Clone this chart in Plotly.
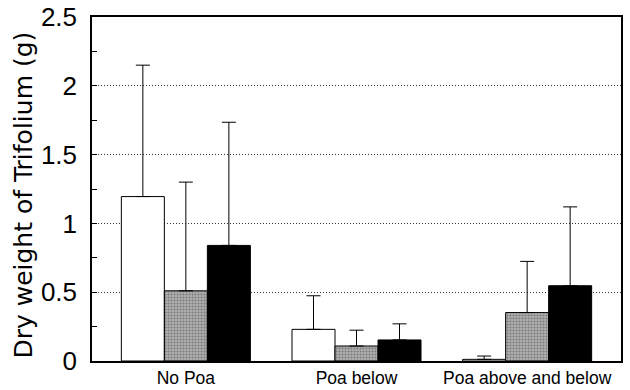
import plotly.graph_objects as go

categories = ["No Poa", "Poa below", "Poa above and below"]
white_vals = [1.195, 0.23, 0.012]
white_err = [0.955, 0.244, 0.024]
gray_vals = [0.51, 0.109, 0.352]
gray_err = [0.79, 0.115, 0.372]
black_vals = [0.84, 0.153, 0.547]
black_err = [0.895, 0.117, 0.573]
y_ticks = [0, 0.5, 1, 1.5, 2, 2.5]
y_ticktext = ["0", "0.5", "1", "1.5", "2", "2.5"]
y_title = "Dry weight of Trifolium (g)"

FONT = "Liberation Sans, Arial, Helvetica, sans-serif"

def err(vals):
    return dict(type="data", array=vals, arrayminus=[0] * len(vals), symmetric=False,
                color="black", thickness=1, width=7)

fig = go.Figure()
fig.add_trace(go.Bar(x=categories, y=white_vals, error_y=err(white_err),
                     marker=dict(color="white", line=dict(color="black", width=1))))
fig.add_trace(go.Bar(x=categories, y=gray_vals, error_y=err(gray_err),
                     marker=dict(color="#a8a8a8", line=dict(color="black", width=1),
                                 pattern=dict(shape=".", fgcolor="#444444", bgcolor="#b0b0b0",
                                              size=3, solidity=0.4))))
fig.add_trace(go.Bar(x=categories, y=black_vals, error_y=err(black_err),
                     marker=dict(color="black", line=dict(color="black", width=1))))

fig.update_layout(
    width=630, height=390,
    margin=dict(l=92, r=9, t=17, b=29),
    paper_bgcolor="white", plot_bgcolor="white",
    barmode="group", bargap=0.244, bargroupgap=0,
    showlegend=False,
    font=dict(family=FONT, color="black"),
)
fig.update_xaxes(
    type="category", range=[-0.55, 2.55], automargin=False,
    showline=True, linecolor="black", linewidth=1.5, mirror=True,
    showgrid=False, ticks="", tickfont=dict(size=17.5, family=FONT),
    ticklabelstandoff=0,
)
fig.update_yaxes(
    range=[0, 2.5], tickvals=y_ticks, ticktext=y_ticktext, automargin=False,
    showline=True, linecolor="black", linewidth=1.5, mirror=True,
    showgrid=True, gridcolor="#333333", gridwidth=1, griddash="1px,2px",
    ticks="inside", ticklen=5, tickcolor="black",
    minor=dict(dtick=0.25, ticks="inside", ticklen=5, tickcolor="black", showgrid=False),
    tickfont=dict(size=26, family=FONT), ticklabelstandoff=8,
    zeroline=False,
)
fig.add_annotation(
    text=y_title, textangle=-90, xref="paper", yref="paper",
    x=-0.1285, y=0.481, xanchor="center", yanchor="middle", showarrow=False,
    font=dict(size=25, family="DejaVu Sans", color="black"),
)

fig.write_html("out.html", config={"displayModeBar": False},
               post_script="document.body.style.margin='0';document.body.style.overflow='hidden';")
